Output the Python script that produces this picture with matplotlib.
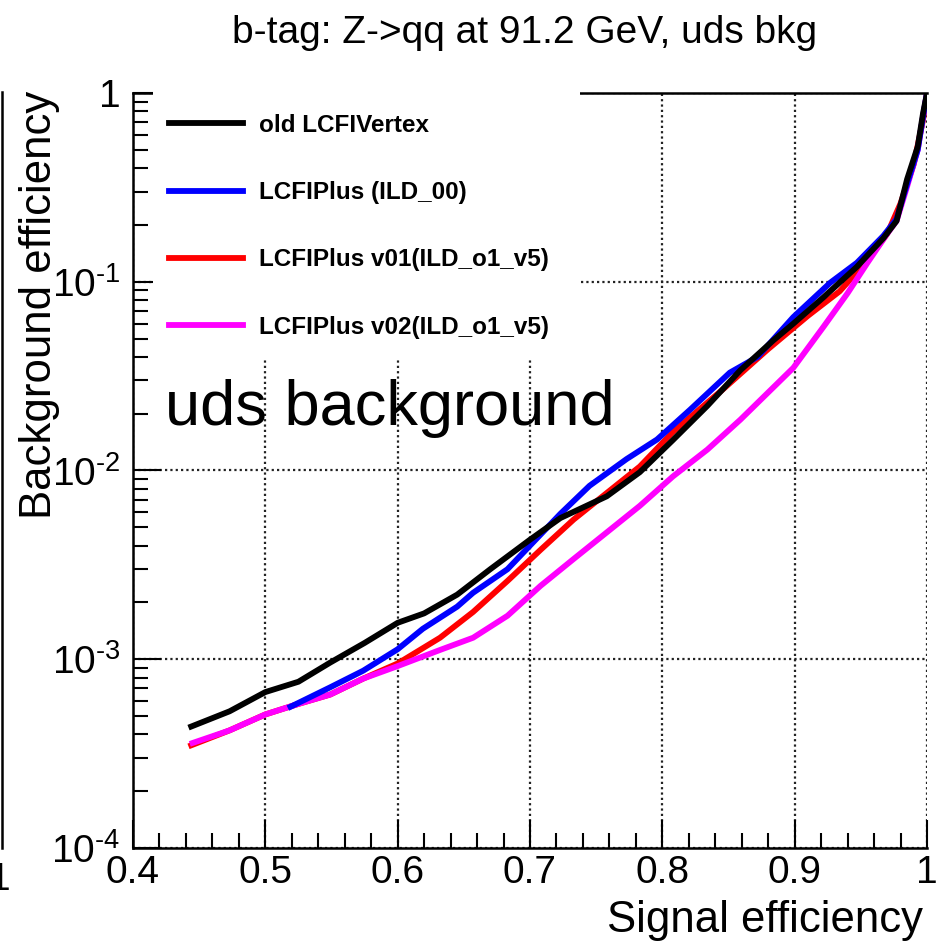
import numpy as np
import matplotlib
matplotlib.use("Agg")
import matplotlib.pyplot as plt
from matplotlib.ticker import LogLocator, MultipleLocator, NullFormatter
from matplotlib.patches import Rectangle
from matplotlib.lines import Line2D

plt.rcParams["font.family"] = ["Liberation Sans", "DejaVu Sans"]
plt.rcParams["mathtext.fontset"] = "custom"
plt.rcParams["mathtext.rm"] = "Liberation Sans"
plt.rcParams["mathtext.default"] = "regular"

# curves: signal efficiency vs background efficiency
old_x = [0.444, 0.473, 0.50, 0.525, 0.549, 0.575, 0.60, 0.62, 0.645, 0.67, 0.70, 0.723, 0.758,
         0.783, 0.808, 0.834, 0.859, 0.884, 0.899, 0.922, 0.947, 0.967, 0.977, 0.985, 0.993, 0.997, 1.0]
old_y = [4.4e-4, 5.3e-4, 6.7e-4, 7.6e-4, 9.6e-4, 1.22e-3, 1.56e-3, 1.75e-3, 2.2e-3, 3.0e-3, 4.3e-3,
         5.6e-3, 7.3e-3, 9.8e-3, 1.45e-2, 2.2e-2, 3.4e-2, 4.9e-2, 6.0e-2, 8.3e-2, 0.12, 0.17, 0.21,
         0.35, 0.52, 0.78, 1.0]

ild00_x = [0.519, 0.549, 0.574, 0.60, 0.619, 0.645, 0.657, 0.683, 0.70, 0.723, 0.745, 0.773, 0.796,
           0.821, 0.851, 0.872, 0.899, 0.927, 0.947, 0.967, 0.977, 0.985, 0.993, 0.997, 1.0]
ild00_y = [5.6e-4, 7.1e-4, 8.7e-4, 1.13e-3, 1.45e-3, 1.9e-3, 2.25e-3, 3.0e-3, 4.0e-3, 5.9e-3, 8.3e-3,
           1.15e-2, 1.46e-2, 2.1e-2, 3.3e-2, 4.0e-2, 6.5e-2, 9.9e-2, 0.126, 0.175, 0.215, 0.33, 0.5,
           0.75, 1.0]

v01_x = [0.444, 0.473, 0.50, 0.525, 0.549, 0.574, 0.60, 0.615, 0.632, 0.657, 0.683, 0.708, 0.733,
         0.758, 0.783, 0.808, 0.846, 0.88, 0.91, 0.934, 0.955, 0.97, 0.98, 0.99, 0.997, 1.0]
v01_y = [3.5e-4, 4.2e-4, 5.1e-4, 5.8e-4, 6.5e-4, 7.9e-4, 9.5e-4, 1.1e-3, 1.3e-3, 1.78e-3, 2.6e-3,
         3.8e-3, 5.5e-3, 7.6e-3, 1.05e-2, 1.6e-2, 2.7e-2, 4.4e-2, 6.6e-2, 8.9e-2, 0.13, 0.18, 0.26,
         0.42, 0.72, 1.0]

v02_x = [0.445, 0.473, 0.50, 0.525, 0.549, 0.574, 0.60, 0.632, 0.657, 0.683, 0.708, 0.733, 0.758,
         0.783, 0.808, 0.834, 0.859, 0.899, 0.922, 0.940, 0.955, 0.970, 0.977, 0.985, 0.993, 0.997, 1.0]
v02_y = [3.6e-4, 4.2e-4, 5.1e-4, 5.8e-4, 6.5e-4, 7.9e-4, 9.2e-4, 1.12e-3, 1.3e-3, 1.7e-3, 2.45e-3,
         3.4e-3, 4.7e-3, 6.5e-3, 9.3e-3, 1.29e-2, 1.86e-2, 3.5e-2, 5.8e-2, 8.7e-2, 0.126, 0.18, 0.21,
         0.32, 0.5, 0.75, 1.0]

labels = ["old LCFIVertex", "LCFIPlus (ILD_00)", "LCFIPlus v01(ILD_o1_v5)", "LCFIPlus v02(ILD_o1_v5)"]
colors = ["black", "#0000ff", "#ff0000", "#ff00ff"]

x_ticks = [0.4, 0.5, 0.6, 0.7, 0.8, 0.9, 1.0]
x_tick_labels = ["0.4", "0.5", "0.6", "0.7", "0.8", "0.9", "1"]
y_ticks = [1e-4, 1e-3, 1e-2, 1e-1, 1]
y_tick_labels = [r"$10^{\text{-}4}$", r"$10^{\text{-}3}$", r"$10^{\text{-}2}$", r"$10^{\text{-}1}$", "1"]

W, H = 949, 943
fig = plt.figure(figsize=(W / 100, H / 100), dpi=100)
ax = fig.add_axes([133 / W, (H - 848) / H, (927 - 133) / W, (848 - 93) / H])

lw = 4.2
l_v01, = ax.plot(v01_x, v01_y, color=colors[2], lw=lw, zorder=2)
l_v02, = ax.plot(v02_x, v02_y, color=colors[3], lw=lw, zorder=2.1)
l_ild, = ax.plot(ild00_x, ild00_y, color=colors[1], lw=lw, zorder=2.2)
l_old, = ax.plot(old_x, old_y, color=colors[0], lw=lw, zorder=2.3)

ax.set_yscale("log")
ax.set_xlim(0.4, 1.0)
ax.set_ylim(1e-4, 1)

ax.set_xticks(x_ticks)
ax.set_xticklabels(x_tick_labels)
ax.xaxis.set_minor_locator(MultipleLocator(0.02))
ax.set_yticks(y_ticks)
ax.set_yticklabels(y_tick_labels)
ax.yaxis.set_minor_locator(LogLocator(base=10, subs=np.arange(2, 10)))
ax.yaxis.set_minor_formatter(NullFormatter())

ax.tick_params(which="major", direction="in", length=20, width=1.5, labelsize=28)
ax.tick_params(which="minor", direction="in", length=11, width=1.5)
ax.tick_params(axis="x", which="major", pad=5)
ax.tick_params(axis="y", which="major", pad=9)

ax.grid(True, which="major", color="#222222", linestyle=(0, (1, 1.4)), lw=1.6)
for side in ["left", "bottom", "top"]:
    ax.spines[side].set_linewidth(1.8)
ax.spines["right"].set_visible(False)

# white legend box covering the frame and grid
ax.add_patch(Rectangle((20 / 794, (848 - 360) / 755), (580 - 153) / 794, 1.02 - (848 - 360) / 755,
                       transform=ax.transAxes, facecolor="white", edgecolor="none",
                       zorder=2.6, clip_on=False))

ax.legend([l_old, l_ild, l_v01, l_v02], labels, loc="upper left",
          bbox_to_anchor=(169 / W, (H - 114) / H), bbox_transform=fig.transFigure,
          frameon=False, borderpad=0, borderaxespad=0, handlelength=3.05, handletextpad=0.66,
          labelspacing=1.82, prop={"weight": "bold", "size": 17.5})

ax.text((165 - 133) / 794, (848 - 425) / 755, "uds background", transform=ax.transAxes,
        fontsize=45.5, ha="left", va="baseline", zorder=4)

fig.text(525 / W, (H - 43) / H, "b-tag: Z->qq at 91.2 GeV, uds bkg", fontsize=28,
         ha="center", va="baseline")
fig.text(923 / W, (H - 932) / H, "Signal efficiency", fontsize=31.5, ha="right", va="baseline")
fig.text(40 / W, (H - 305) / H, "Background efficiency", fontsize=31.5, rotation=90,
         ha="center", va="center")

# edge of the neighbouring panel, cut off in the picture
fig.add_artist(Line2D([1.5 / W, 1.5 / W], [(H - 848) / H, (H - 92) / H], color="black", lw=1.8))
fig.text(11 / W, (H - 890) / H, "1", fontsize=28, ha="right", va="baseline")

fig.savefig("out.png", dpi=100)
